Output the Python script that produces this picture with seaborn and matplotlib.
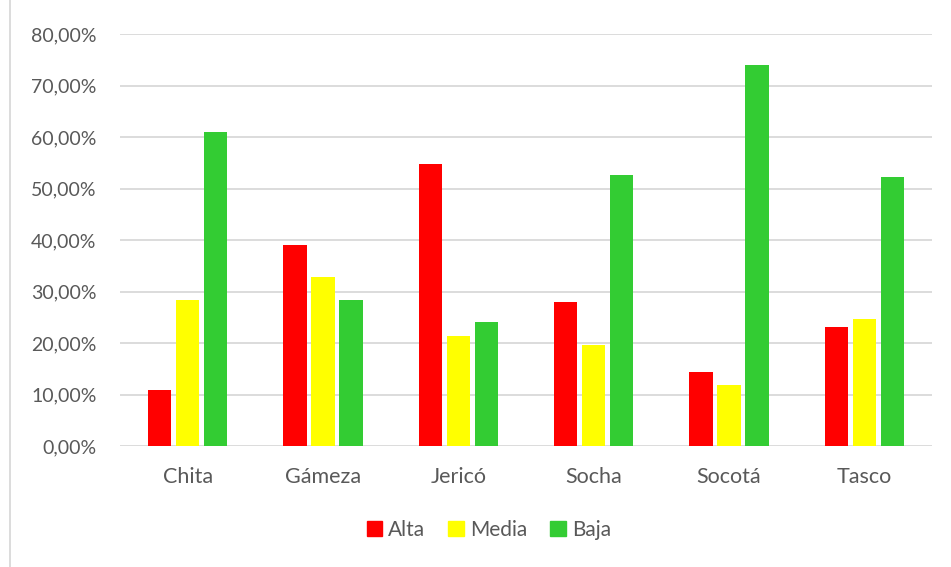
import matplotlib
matplotlib.use("Agg")
import matplotlib.pyplot as plt
from matplotlib.lines import Line2D
from matplotlib.ticker import FuncFormatter, MultipleLocator
import seaborn as sns
import pandas as pd

# Municipalities and share of each level (percent)
municipios = ["Chita", "Gámeza", "Jericó", "Socha", "Socotá", "Tasco"]
niveles = ["Alta", "Media", "Baja"]
alta = [10.82, 38.99, 54.79, 27.98, 14.38, 23.19]
media = [28.37, 32.77, 21.37, 19.56, 11.79, 24.68]
baja = [60.95, 28.37, 24.03, 52.59, 73.96, 52.20]
colores = ["#FF0000", "#FFFF00", "#33CC33"]

rows = []
for nivel, valores in zip(niveles, [alta, media, baja]):
    for m, v in zip(municipios, valores):
        rows.append({"Municipio": m, "Nivel": nivel, "Porcentaje": v})
df = pd.DataFrame(rows)

sns.set_theme(style="white")
plt.rcParams["font.family"] = ["Lato", "DejaVu Sans"]

fig = plt.figure(figsize=(9.51, 5.67), dpi=100)
ax = fig.add_axes([120 / 951, 1 - 446 / 567, 812 / 951, 412 / 567])

sns.barplot(data=df, x="Municipio", y="Porcentaje", hue="Nivel",
            order=municipios, hue_order=niveles, palette=colores,
            width=0.62, gap=0.17, saturation=1, ax=ax, legend=False,
            linewidth=0, zorder=3)

ax.set_ylim(0, 80)
ax.set_xlim(-0.5, len(municipios) - 0.5)
ax.yaxis.set_major_locator(MultipleLocator(10))
ax.yaxis.set_major_formatter(
    FuncFormatter(lambda v, _: f"{v:.2f}".replace(".", ",") + "%"))
ax.grid(axis="y", color="#D9D9D9", linewidth=1.3, zorder=0)
ax.set_axisbelow(True)
for s in ax.spines.values():
    s.set_visible(False)
ax.set_xlabel("")
ax.set_ylabel("")
ax.tick_params(axis="both", length=0, labelcolor="#595959")
ax.tick_params(axis="y", pad=17, labelsize=14)
ax.tick_params(axis="x", pad=15, labelsize=15.5)

# Outer chart border on the left
fig.add_artist(Line2D([10 / 951, 10 / 951], [0, 1], color="#D9D9D9",
                      linewidth=1.3, transform=fig.transFigure))

handles = [plt.Rectangle((0, 0), 1, 1, color=c) for c in colores]
fig.legend(handles, niveles, loc="center", bbox_to_anchor=(489 / 951, 1 - 530 / 567),
           ncol=3, frameon=False, fontsize=15, labelcolor="#595959",
           handlelength=0.75, handleheight=0.75, handletextpad=0.3, columnspacing=1.1)

fig.savefig("out.png", dpi=100)
